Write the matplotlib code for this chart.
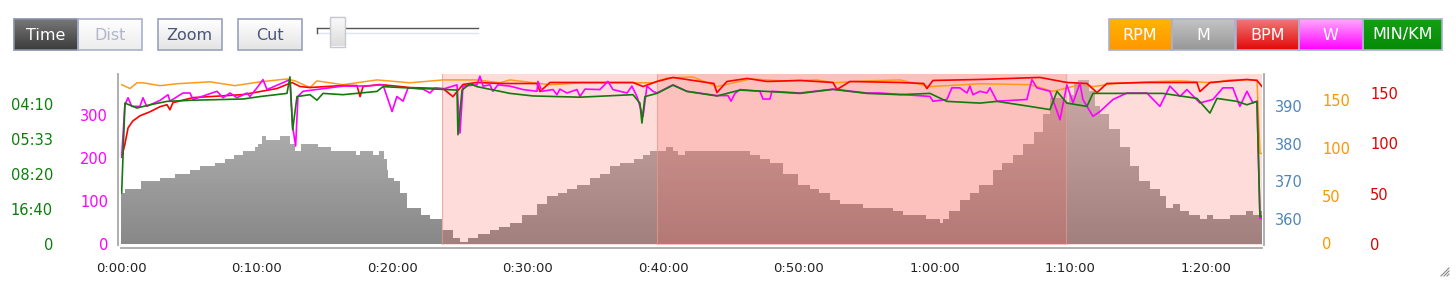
import numpy as np
import matplotlib.pyplot as plt
from matplotlib.colors import LinearSegmentedColormap
from matplotlib.patches import Rectangle
from matplotlib.ticker import FixedLocator, FuncFormatter

# ---- data (time in minutes) ----
elev_t = [0.0, 0.3, 1.5, 2.9, 4.0, 5.1, 5.8, 6.9, 7.7, 8.3, 9.0, 9.9, 10.1, 10.4, 10.7,
          11.7, 12.5, 12.8, 13.3, 14.5, 15.5, 17.3, 17.6, 18.6, 19.0, 19.4, 19.6, 19.7,
          20.1, 20.6, 21.1, 22.1, 22.8, 23.7, 24.5, 25.0, 25.6, 26.3, 27.2, 27.9, 28.7,
          29.6, 30.7, 31.4, 32.2, 32.9, 33.6, 34.6, 35.3, 36.1, 36.8, 37.8, 38.5, 39.0,
          40.2, 40.7, 41.1, 41.6, 46.4, 47.1, 47.9, 48.8, 49.9, 50.8, 51.5, 52.3, 53.0,
          54.7, 56.9, 57.7, 59.4, 60.4, 60.6, 61.1, 61.9, 62.6, 63.3, 64.3, 65.0, 65.8,
          66.5, 67.3, 68.0, 68.5, 69.0, 69.5, 69.9, 70.3, 70.6, 71.1, 71.4, 71.8, 72.2,
          72.9, 73.7, 74.4, 75.1, 75.9, 76.6, 77.1, 77.6, 78.1, 78.8, 79.6, 80.1, 80.5,
          81.8, 83.0, 83.5, 84.0, 84.15]
elev_m = [367, 368, 370, 371, 372, 373, 374, 375, 376, 377, 378, 379, 380, 382, 381,
          382, 380, 378, 380, 379, 378, 377, 378, 377, 378, 376, 373, 371,
          370, 367, 363, 361, 360, 357, 355, 354, 355, 356, 357, 358, 359,
          361, 364, 366, 367, 368, 369, 371, 372, 374, 375, 376, 377, 378,
          379, 378, 377, 378, 377, 376, 375, 372, 369, 368, 367, 365, 364,
          363, 362, 361, 360, 359, 360, 362, 365, 367, 369, 373, 375, 377,
          380, 383, 388, 392, 392, 391, 393, 396, 397, 397, 394, 390, 388,
          384, 379, 374, 370, 368, 366, 363, 364, 362, 361, 360, 361, 360,
          361, 362, 361, 362, 362]

rpm_t = [0.05, 0.66, 1.18, 1.62, 2.88, 4.13, 6.56, 8.41, 10.25, 12.24, 12.83, 13.94,
         14.45, 16.37, 18.88, 21.31, 23.75, 26.25, 27.95, 28.69, 31.64, 34.07, 37.76,
         39.23, 40.27, 42.18, 43.95, 46.39, 48.82, 51.33, 52.51, 55.01, 57.45, 59.66,
         63.35, 67.04, 68.73, 70.72, 71.68, 73.16, 75.66, 78.1, 80.53, 81.78, 83.04,
         83.78, 84.0, 84.15]
rpm = [166, 162, 168, 168, 165, 167, 169, 165, 169, 172, 170, 163,
       170, 166, 171, 168, 171, 171, 168, 171, 166, 168, 168,
       168, 173, 174, 164, 172, 170, 171, 168, 170, 171, 164,
       167, 166, 159, 166, 164, 167, 169, 170, 168, 171, 171,
       171, 94, 94]

bpm_t = [0.05, 0.29, 0.52, 0.88, 1.40, 2.14, 2.88, 3.39, 3.61, 3.83, 5.31, 6.56, 9.0,
         10.25, 11.5, 12.61, 13.2, 13.94, 16.37, 17.4, 17.63, 17.85, 19.1, 21.31, 23.75,
         24.48, 25.22, 26.25, 27.95, 30.68, 30.9, 31.64, 37.76, 38.5, 39.53, 40.71, 42.7,
         43.73, 43.95, 44.69, 46.17, 47.64, 50.07, 52.51, 52.8, 53.76, 57.45, 59.2, 59.44,
         59.88, 63.35, 67.77, 69.76, 71.24, 71.98, 72.71, 75.66, 79.35, 79.57, 80.31,
         83.04, 83.78, 84.15]
bpm = [86, 99, 115, 122, 127, 131, 136, 138, 133, 140, 145, 146, 148,
       151, 154, 160, 156, 155, 157, 157, 146, 156, 158, 155, 154,
       146, 158, 160, 159, 159, 151, 160, 160, 156, 161, 165, 161,
       159, 150, 161, 164, 161, 162, 160, 153, 161, 160, 159, 154,
       162, 163, 165, 160, 159, 150, 159, 160, 160, 151, 160,
       163, 162, 156]

watt_t = [0.05, 0.29, 0.52, 0.79, 1.40, 1.62, 1.90, 2.88, 3.47, 3.61, 4.57, 5.09, 5.31,
          7.08, 7.52, 8.04, 8.55, 9.29, 9.51, 10.03, 10.47, 10.77, 12.46, 12.66, 12.88,
          13.05, 13.42, 16.37, 17.40, 18.36, 19.32, 19.69, 19.99, 20.35, 20.80, 21.17,
          22.27, 22.79, 23.16, 23.75, 24.78, 25.00, 25.22, 26.25, 26.47, 26.70, 27.21,
          27.43, 27.80, 28.69, 29.65, 30.68, 30.75, 31.05, 31.86, 32.15, 32.37, 32.89,
          33.63, 33.85, 34.22, 35.32, 35.91, 36.28, 37.32, 37.68, 38.05, 38.50, 38.79,
          39.23, 39.53, 40.71, 41.74, 43.95, 44.76, 44.99, 45.28, 45.65, 47.12, 47.35,
          47.86, 48.0, 50.07, 52.51, 55.01, 55.97, 59.66, 59.88, 60.91, 61.28, 61.87,
          62.39, 62.61, 62.83, 63.35, 63.86, 64.09, 64.60, 66.81, 67.18, 67.55, 68.51,
          69.25, 69.76, 70.21, 70.72, 70.94, 71.68, 72.2, 73.16, 74.19, 75.66, 76.62,
          77.36, 78.1, 78.61, 79.57, 80.53, 81.27, 82.0, 82.52, 83.04, 83.48, 83.78,
          84.0, 84.15]
watt = [204, 324, 340, 320, 320, 340, 320, 334, 347, 332, 351, 351, 336,
        355, 340, 351, 340, 351, 343, 363, 382, 359, 382, 273, 228,
        343, 355, 367, 367, 368, 370, 336, 308, 343, 332, 363,
        360, 351, 363, 360, 370, 258, 367, 370, 390, 367, 370,
        355, 370, 367, 359, 355, 378, 355, 359, 347, 360, 351,
        359, 343, 360, 359, 378, 359, 351, 367, 343, 297, 367,
        355, 351, 370, 355, 345, 345, 332, 350, 359, 355, 337,
        337, 355, 351, 360, 351, 351, 343, 332, 336, 363, 363,
        351, 367, 347, 355, 351, 363, 332, 336, 382, 363, 355,
        289, 370, 328, 374, 336, 297, 308, 336, 351, 351, 320,
        367, 343, 359, 328, 336, 363, 363, 320, 355, 328, 332,
        60, 60]

# pace in seconds per km
pace_t = [0.05, 0.29, 1.18, 2.14, 3.39, 5.3, 9.0, 10.25, 12.24, 12.46, 12.66, 12.98,
          13.94, 14.45, 14.9, 16.37, 18.88, 19.32, 21.31, 23.75, 24.78, 24.85, 25.15,
          25.74, 26.25, 28.69, 30.38, 33.85, 37.76, 38.27, 38.42, 38.64, 39.53, 40.71,
          41.74, 43.95, 45.65, 47.64, 50.07, 52.51, 55.01, 57.45, 59.66, 60.91, 63.35,
          64.6, 67.04, 68.51, 69.03, 69.76, 71.24, 71.68, 76.84, 79.35, 80.31, 80.83,
          82.3, 83.04, 83.78, 84.0, 84.15]
pace = [685, 248, 257, 251, 245, 243, 241, 237, 232, 209, 306, 237,
        234, 243, 232, 234, 229, 222, 224, 226, 227, 320, 227,
        218, 222, 232, 236, 238, 234, 248, 289, 237, 232, 220,
        229, 236, 227, 229, 232, 226, 232, 234, 232, 245, 248,
        245, 254, 260, 229, 248, 254, 232, 232, 240, 267, 240,
        245, 251, 245, 1268, 1268]

# selections (minutes)
sel_light = (23.67, 84.15)
sel_dark = (39.5, 69.69)

W, H, DPI = 1456, 286, 100
L, R, T, B = 121, 1262, 74, 244.5
PT = 72 / DPI  # points per pixel

fig = plt.figure(figsize=(W / DPI, H / DPI), dpi=DPI)
ax = fig.add_axes([L / W, 1 - B / H, (R - L) / W, (B - T) / H])

t_end = elev_t[-1]
e_lo, e_hi = 353.23, 398.5

# elevation: gray gradient clipped to the step profile
prof = ax.fill_between(elev_t, e_lo, elev_m, step='post', color='none', lw=0)
gray = LinearSegmentedColormap.from_list('g', ['#c0c0c0', '#888888'])
grad = ax.imshow(np.linspace(0, 1, 256).reshape(-1, 1), cmap=gray, aspect='auto',
                 extent=(0, t_end, e_lo, e_hi), origin='upper', zorder=1)
grad.set_clip_path(prof.get_paths()[0], ax.transData)

shade = (250 / 255, 100 / 255, 90 / 255)
for a, b in (sel_light, sel_dark):
    ax.axvspan(a, b, color=shade, alpha=0.22, lw=0, zorder=2)
for xv in (sel_light[0], sel_dark[0], sel_dark[1]):
    ax.axvline(xv, color='#e89a94', lw=0.8, alpha=0.7, zorder=2)

ax.set_xlim(0, t_end)
ax.set_ylim(e_lo, e_hi)

ax.xaxis.set_major_locator(FixedLocator(np.arange(0, 81, 10)))
ax.xaxis.set_major_formatter(FuncFormatter(
    lambda v, p: f"{int(v // 60)}:{int(v % 60):02d}:00"))
ax.tick_params(axis='x', length=0, pad=10, labelsize=9.5, labelcolor='#222222')

for s in ('left', 'right', 'bottom'):
    ax.spines[s].set_color('#a8a8a8')
    ax.spines[s].set_linewidth(1.3)
ax.spines['left'].set_position(('outward', 3.5 * PT))
ax.spines['bottom'].set_position(('outward', 3.5 * PT))
ax.spines['right'].set_position(('outward', 1.5 * PT))
ax.spines['top'].set_visible(False)


def twin(ylim, ticks, color, side, pad_px, fmt=None):
    tw = ax.twinx()
    tw.set_ylim(*ylim)
    for s in tw.spines.values():
        s.set_visible(False)
    if side == 'left':
        tw.yaxis.tick_left()
    else:
        tw.yaxis.tick_right()
    tw.yaxis.set_major_locator(FixedLocator(ticks))
    if fmt:
        tw.yaxis.set_major_formatter(FuncFormatter(fmt))
    tw.tick_params(axis='y', length=0, pad=pad_px * PT, labelsize=10.5, labelcolor=color)
    return tw


def pace_label(v, p):
    if v <= 0:
        return '0'
    s = round(1000 / v)
    return f"{s // 60:02d}:{s % 60:02d}"


ax_rpm = twin((-1.26, 177.2), [0, 50, 100, 150], '#ff9500', 'right', 60)
ax_bpm = twin((-0.5, 168.4), [0, 50, 100, 150], '#e00000', 'right', 108)
ax_w = twin((-0.46, 395.1), [0, 100, 200, 300], '#ff00ff', 'left', 13)
ax_pace = twin((-0.02, 4.866), [0, 1, 2, 3, 4], '#0b7f0b', 'left', 68, pace_label)

# twinx moves the host ticks to the left, so put the elevation ticks back on the right
ax.yaxis.tick_right()
ax.yaxis.set_major_locator(FixedLocator([360, 370, 380, 390]))
ax.tick_params(axis='y', length=0, pad=11 * PT, labelsize=10.5, labelcolor='#4f86b8')

ax_rpm.plot(rpm_t, rpm, color='#ff9a1a', lw=1.1)
ax_bpm.plot(bpm_t, bpm, color='#ff0000', lw=1.2)
ax_w.plot(watt_t, watt, color='#ff00ff', lw=1.2)
ax_pace.plot(pace_t, 1000 / np.array(pace), color='#137a0b', lw=1.2)
for a in (ax_rpm, ax_bpm, ax_w, ax_pace):
    a.set_xlim(0, t_end)

# ---- toolbar and legend buttons (pixel overlay) ----
ov = fig.add_axes([0, 0, 1, 1])
ov.set_xlim(0, W)
ov.set_ylim(H, 0)
ov.axis('off')


def button(x0, x1, c_top, c_bot, label, tcolor, edge='#a9b1cc'):
    y0, y1 = 19, 50
    cm = LinearSegmentedColormap.from_list('b', [c_top, c_bot])
    ov.imshow(np.linspace(0, 1, 64).reshape(-1, 1), cmap=cm, aspect='auto',
              extent=(x0, x1, y1, y0), origin='upper', zorder=1)
    ov.add_patch(Rectangle((x0, y0), x1 - x0, y1 - y0, fill=False, ec=edge, lw=1.2, zorder=2))
    ov.text((x0 + x1) / 2, (y0 + y1) / 2 + 0.5, label, ha='center', va='center',
            fontsize=11.5, color=tcolor, zorder=3)


button(14, 78, '#777777', '#3c3c3c', 'Time', 'white', edge='#8890a8')
button(78, 141.5, '#ffffff', '#ececec', 'Dist', '#b0b6cc')
button(157.5, 221.5, '#ffffff', '#e4e4e4', 'Zoom', '#4a5578', edge='#9aa2bc')
button(237.5, 301.5, '#ffffff', '#e4e4e4', 'Cut', '#4a5578', edge='#9aa2bc')

# slider
ov.plot([317, 478], [28.3, 28.3], color='#555555', lw=1.0)
ov.plot([317, 478], [33, 33], color='#dde4f4', lw=1.0)
ov.plot([317, 317], [28.3, 33], color='#555555', lw=1.0)
ov.imshow(np.linspace(0, 1, 32).reshape(-1, 1),
          cmap=LinearSegmentedColormap.from_list('h', ['#fbfbfb', '#dcdcdc']),
          aspect='auto', extent=(330, 345, 46.5, 17), origin='upper', zorder=3)
ov.add_patch(Rectangle((330, 17), 15, 29.5, fill=False, ec='#c8c8d0', lw=1.0, zorder=4))

legend = [('RPM', 1108.5, 1171.5, '#ffb400', '#ff9600'),
          ('M', 1172, 1235, '#c4c4c4', '#979797'),
          ('BPM', 1235.5, 1299, '#f07878', '#e30808'),
          ('W', 1299, 1362.5, '#ffa8ff', '#ff00ff'),
          ('MIN/KM', 1363, 1442, '#14a014', '#068a06')]
for name, x0, x1, ct, cb in legend:
    button(x0, x1, ct, cb, name, 'white')

# resize grip
for d in (0, 3, 6):
    ov.plot([1441 + d, 1449], [276, 268 + d], color='#888888', lw=0.8)

ov.set_xlim(0, W)
ov.set_ylim(H, 0)

fig.savefig('out.png', dpi=DPI)
